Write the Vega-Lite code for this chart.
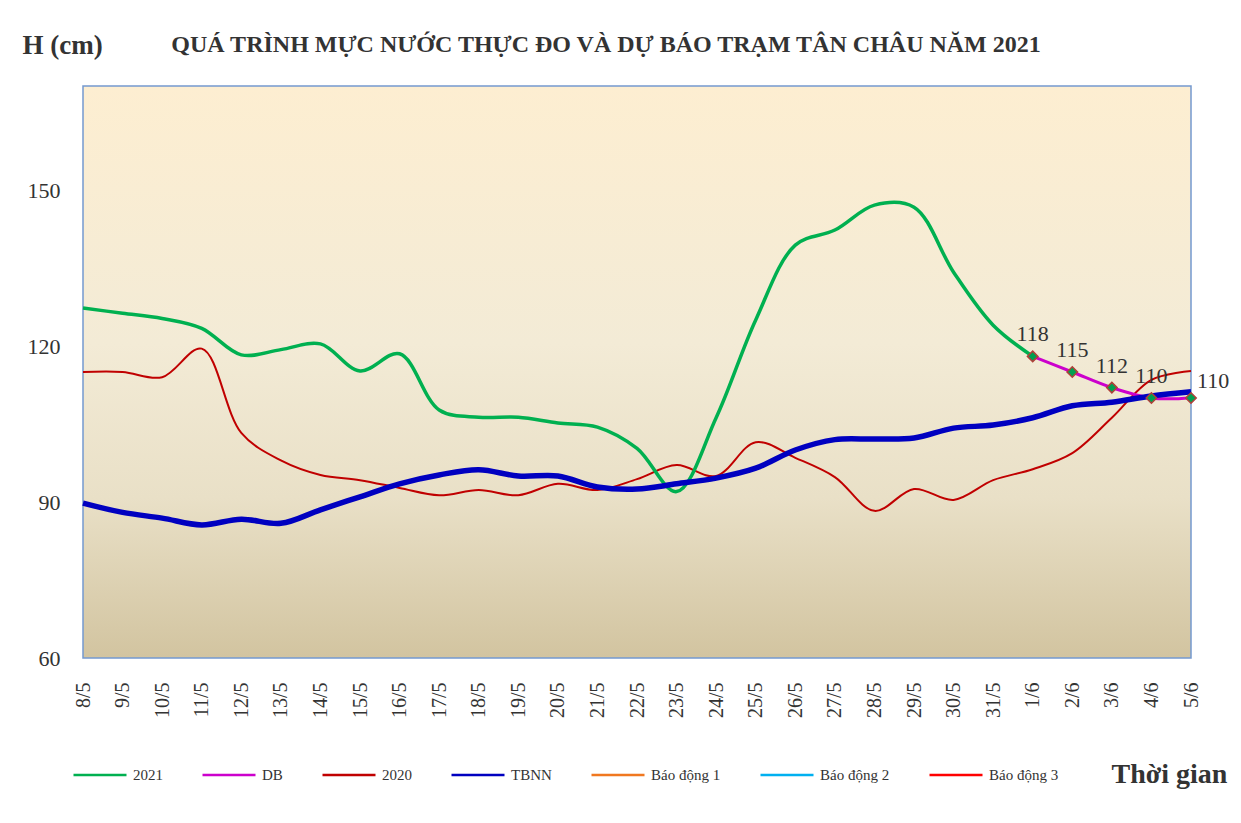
{
  "$schema": "https://vega.github.io/schema/vega-lite/v6.json",
  "width": 1108,
  "height": 572,
  "autosize": {"type": "none"},
  "padding": {"left": 83, "top": 86, "right": 50, "bottom": 165},
  "background": "white",
  "title": {
    "text": "QUÁ TRÌNH MỰC NƯỚC THỰC ĐO VÀ DỰ BÁO TRẠM TÂN CHÂU NĂM 2021",
    "font": "Liberation Serif",
    "fontSize": 24,
    "fontWeight": "bold",
    "color": "#333333",
    "anchor": "middle",
    "frame": "group",
    "dx": -31,
    "dy": 79,
    "baseline": "alphabetic",
    "offset": 34
  },
  "datasets": {
    "levels": [
      {"date": "8/5", "series": "2021", "h": 127.3},
      {"date": "9/5", "series": "2021", "h": 126.3},
      {"date": "10/5", "series": "2021", "h": 125.3},
      {"date": "11/5", "series": "2021", "h": 123.4},
      {"date": "12/5", "series": "2021", "h": 118.3},
      {"date": "13/5", "series": "2021", "h": 119.3},
      {"date": "14/5", "series": "2021", "h": 120.4},
      {"date": "15/5", "series": "2021", "h": 115.2},
      {"date": "16/5", "series": "2021", "h": 118.5},
      {"date": "17/5", "series": "2021", "h": 107.7},
      {"date": "18/5", "series": "2021", "h": 106.3},
      {"date": "19/5", "series": "2021", "h": 106.3},
      {"date": "20/5", "series": "2021", "h": 105.2},
      {"date": "21/5", "series": "2021", "h": 104.4},
      {"date": "22/5", "series": "2021", "h": 100.3},
      {"date": "23/5", "series": "2021", "h": 92.0},
      {"date": "24/5", "series": "2021", "h": 106.2},
      {"date": "25/5", "series": "2021", "h": 125.0},
      {"date": "26/5", "series": "2021", "h": 139.4},
      {"date": "27/5", "series": "2021", "h": 142.3},
      {"date": "28/5", "series": "2021", "h": 147.1},
      {"date": "29/5", "series": "2021", "h": 146.7},
      {"date": "30/5", "series": "2021", "h": 134.2},
      {"date": "31/5", "series": "2021", "h": 124.0},
      {"date": "1/6", "series": "2021", "h": 118},
      {"date": "1/6", "series": "DB", "h": 118},
      {"date": "2/6", "series": "DB", "h": 115},
      {"date": "3/6", "series": "DB", "h": 112},
      {"date": "4/6", "series": "DB", "h": 110},
      {"date": "5/6", "series": "DB", "h": 110},
      {"date": "8/5", "series": "2020", "h": 115},
      {"date": "9/5", "series": "2020", "h": 115},
      {"date": "10/5", "series": "2020", "h": 114},
      {"date": "11/5", "series": "2020", "h": 119.5},
      {"date": "12/5", "series": "2020", "h": 103.3},
      {"date": "13/5", "series": "2020", "h": 98},
      {"date": "14/5", "series": "2020", "h": 95.2},
      {"date": "15/5", "series": "2020", "h": 94.2},
      {"date": "16/5", "series": "2020", "h": 92.7},
      {"date": "17/5", "series": "2020", "h": 91.3},
      {"date": "18/5", "series": "2020", "h": 92.3},
      {"date": "19/5", "series": "2020", "h": 91.3},
      {"date": "20/5", "series": "2020", "h": 93.5},
      {"date": "21/5", "series": "2020", "h": 92.3},
      {"date": "22/5", "series": "2020", "h": 94.4},
      {"date": "23/5", "series": "2020", "h": 97.1},
      {"date": "24/5", "series": "2020", "h": 95},
      {"date": "25/5", "series": "2020", "h": 101.5},
      {"date": "26/5", "series": "2020", "h": 98.5},
      {"date": "27/5", "series": "2020", "h": 94.8},
      {"date": "28/5", "series": "2020", "h": 88.3},
      {"date": "29/5", "series": "2020", "h": 92.5},
      {"date": "30/5", "series": "2020", "h": 90.4},
      {"date": "31/5", "series": "2020", "h": 94.2},
      {"date": "1/6", "series": "2020", "h": 96.3},
      {"date": "2/6", "series": "2020", "h": 99.4},
      {"date": "3/6", "series": "2020", "h": 106.2},
      {"date": "4/6", "series": "2020", "h": 113.5},
      {"date": "5/6", "series": "2020", "h": 115.2},
      {"date": "8/5", "series": "TBNN", "h": 89.8},
      {"date": "9/5", "series": "TBNN", "h": 88},
      {"date": "10/5", "series": "TBNN", "h": 86.9},
      {"date": "11/5", "series": "TBNN", "h": 85.6},
      {"date": "12/5", "series": "TBNN", "h": 86.7},
      {"date": "13/5", "series": "TBNN", "h": 85.9},
      {"date": "14/5", "series": "TBNN", "h": 88.5},
      {"date": "15/5", "series": "TBNN", "h": 91},
      {"date": "16/5", "series": "TBNN", "h": 93.5},
      {"date": "17/5", "series": "TBNN", "h": 95.2},
      {"date": "18/5", "series": "TBNN", "h": 96.2},
      {"date": "19/5", "series": "TBNN", "h": 95},
      {"date": "20/5", "series": "TBNN", "h": 95},
      {"date": "21/5", "series": "TBNN", "h": 92.9},
      {"date": "22/5", "series": "TBNN", "h": 92.5},
      {"date": "23/5", "series": "TBNN", "h": 93.5},
      {"date": "24/5", "series": "TBNN", "h": 94.6},
      {"date": "25/5", "series": "TBNN", "h": 96.5},
      {"date": "26/5", "series": "TBNN", "h": 100},
      {"date": "27/5", "series": "TBNN", "h": 102},
      {"date": "28/5", "series": "TBNN", "h": 102.1},
      {"date": "29/5", "series": "TBNN", "h": 102.3},
      {"date": "30/5", "series": "TBNN", "h": 104.2},
      {"date": "31/5", "series": "TBNN", "h": 104.8},
      {"date": "1/6", "series": "TBNN", "h": 106.2},
      {"date": "2/6", "series": "TBNN", "h": 108.5},
      {"date": "3/6", "series": "TBNN", "h": 109.2},
      {"date": "4/6", "series": "TBNN", "h": 110.4},
      {"date": "5/6", "series": "TBNN", "h": 111.2}
    ]
  },
  "data": {"name": "levels"},
  "encoding": {
    "x": {
      "field": "date",
      "type": "ordinal",
      "scale": {"type": "point", "padding": 0, "domain": ["8/5","9/5","10/5","11/5","12/5","13/5","14/5","15/5","16/5","17/5","18/5","19/5","20/5","21/5","22/5","23/5","24/5","25/5","26/5","27/5","28/5","29/5","30/5","31/5","1/6","2/6","3/6","4/6","5/6"]},
      "axis": {
        "title": "Thời gian",
        "titleFont": "Liberation Serif",
        "titleFontSize": 28,
        "titleFontWeight": "bold",
        "titleColor": "#333333",
        "titleAngle": 0,
        "titleAlign": "left",
        "titleBaseline": "alphabetic",
        "titleX": 1028,
        "titleY": 124,
        "labelAngle": 270,
        "labelFont": "Liberation Serif",
        "labelFontSize": 20,
        "labelColor": "#333333",
        "labelPadding": 24,
        "ticks": false,
        "domain": false,
        "grid": false,
        "labelOverlap": false
      }
    },
    "y": {
      "field": "h",
      "type": "quantitative",
      "scale": {"domain": [60, 170], "nice": false, "zero": false},
      "axis": {
        "title": "H (cm)",
        "titleFont": "Liberation Serif",
        "titleFontSize": 27,
        "titleFontWeight": "bold",
        "titleColor": "#333333",
        "titleAngle": 0,
        "titleAlign": "left",
        "titleBaseline": "alphabetic",
        "titleX": -61,
        "titleY": -33,
        "values": [60, 90, 120, 150],
        "labelFont": "Liberation Serif",
        "labelFontSize": 22,
        "labelColor": "#333333",
        "labelPadding": 23,
        "ticks": false,
        "domain": false,
        "grid": false
      }
    }
  },
  "layer": [
    {
      "transform": [{"filter": "datum.series === '2020'"}],
      "mark": {"type": "line", "interpolate": "catmull-rom", "strokeWidth": 2},
      "encoding": {
        "color": {
          "field": "series",
          "type": "nominal",
          "scale": {
            "domain": ["2021", "DB", "2020", "TBNN", "Báo động 1", "Báo động 2", "Báo động 3"],
            "range": ["#00B050", "#CC00CC", "#C00000", "#0000C0", "#F07820", "#00B0F0", "#FF0000"]
          },
          "legend": {
            "title": null,
            "orient": "none",
            "legendX": -11,
            "legendY": 661,
            "direction": "horizontal",
            "columns": 7,
            "columnPadding": 34,
            "symbolType": "stroke",
            "symbolSize": 2809,
            "symbolStrokeWidth": 2.5,
            "labelFont": "Liberation Serif",
            "labelFontSize": 15,
            "labelColor": "#333333",
            "labelOffset": 5
          }
        }
      }
    },
    {
      "transform": [{"filter": "datum.series === '2021'"}],
      "mark": {"type": "line", "interpolate": "catmull-rom", "strokeWidth": 3.5},
      "encoding": {"color": {"field": "series", "type": "nominal"}}
    },
    {
      "transform": [{"filter": "datum.series === 'DB'"}],
      "mark": {"type": "line", "interpolate": "catmull-rom", "strokeWidth": 3},
      "encoding": {"color": {"field": "series", "type": "nominal"}}
    },
    {
      "transform": [{"filter": "datum.series === 'TBNN'"}],
      "mark": {"type": "line", "interpolate": "catmull-rom", "strokeWidth": 5.5},
      "encoding": {"color": {"field": "series", "type": "nominal"}}
    },
    {
      "transform": [{"filter": "datum.series === 'DB'"}],
      "mark": {"type": "point", "shape": "diamond", "filled": true, "fill": "#00A050", "stroke": "#B0403A", "strokeWidth": 1.5, "size": 110, "opacity": 1}
    },
    {
      "transform": [{"filter": "datum.series === 'DB' && datum.date !== '5/6'"}],
      "mark": {"type": "text", "font": "Liberation Serif", "fontSize": 22, "color": "#333333", "dy": -22, "baseline": "middle"},
      "encoding": {"text": {"field": "h", "type": "quantitative"}}
    },
    {
      "transform": [{"filter": "datum.series === 'DB' && datum.date === '5/6'"}],
      "mark": {"type": "text", "font": "Liberation Serif", "fontSize": 22, "color": "#333333", "dx": 6, "dy": -17, "align": "left", "baseline": "middle"},
      "encoding": {"text": {"field": "h", "type": "quantitative"}}
    }
  ],
  "config": {
    "view": {
      "stroke": "#7499CF",
      "strokeWidth": 1.5,
      "fill": {
        "gradient": "linear",
        "x1": 0, "y1": 0, "x2": 0, "y2": 1,
        "stops": [
          {"offset": 0, "color": "#FDEED1"},
          {"offset": 0.45, "color": "#F3EBD6"},
          {"offset": 0.72, "color": "#E9E0C7"},
          {"offset": 1, "color": "#D2C4A0"}
        ]
      }
    },
    "font": "Liberation Serif"
  }
}
